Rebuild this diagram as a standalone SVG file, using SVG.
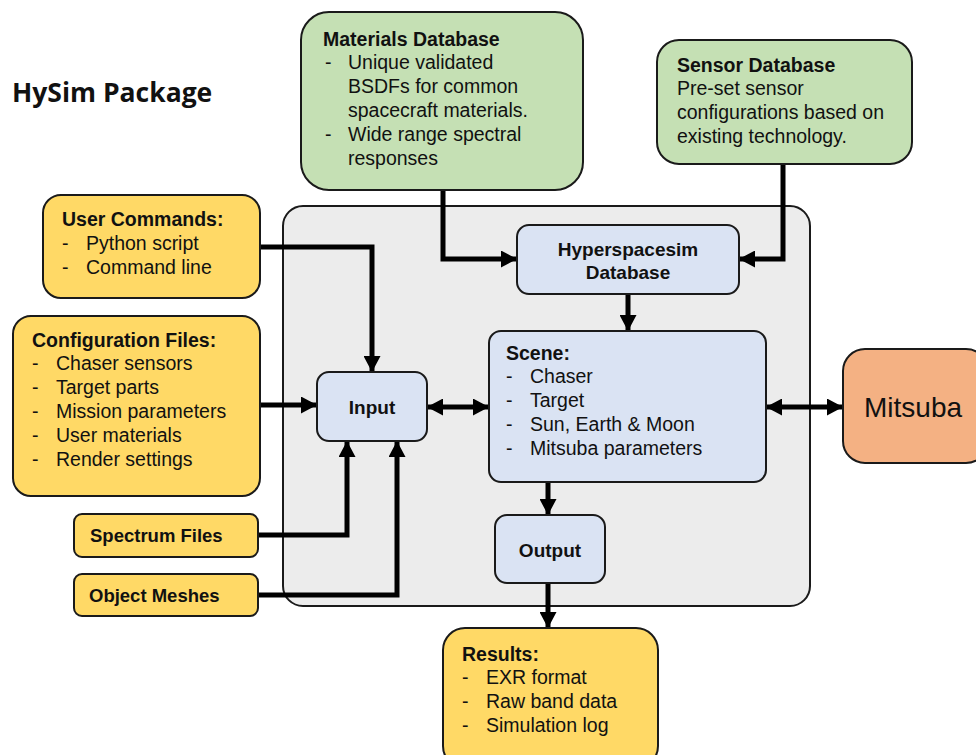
<svg xmlns="http://www.w3.org/2000/svg" width="976" height="755" viewBox="0 0 976 755">
<style>
  .t{font-family:"Liberation Sans",Arial,sans-serif;font-size:19.5px;fill:#111}
  .b{font-weight:bold}
  .box{stroke:#1a1a1a;stroke-width:2}
  .y{fill:#ffd966}.g{fill:#c5e0b4}.bl{fill:#dae3f3}.o{fill:#f4b183}
  .c{fill:none;stroke:#000;stroke-width:5}
</style>
<defs>
  <marker id="ah" viewBox="0 0 16 17" refX="15" refY="8.5" markerWidth="3.2" markerHeight="3.4" orient="auto-start-reverse" markerUnits="strokeWidth">
    <path d="M0,0 L16,8.5 L0,17 Z" fill="#000"/>
  </marker>
</defs>
<rect width="976" height="755" fill="#fff"/>
<text x="12" y="102" style="font-family:'Open Sans',sans-serif;font-size:26.5px;font-weight:bold;fill:#111">HySim Package</text>

<g id="container"><rect x="283" y="206" width="527" height="400" rx="20" fill="#ececec" class="box"/></g>

<g id="connectors">
  <path class="c" d="M443,190 V259 H516" marker-end="url(#ah)"/>
  <path class="c" d="M783,164 V259 H740" marker-end="url(#ah)"/>
  <path class="c" d="M628,294 V330" marker-end="url(#ah)"/>
  <path class="c" d="M260,247 H372 V371" marker-end="url(#ah)"/>
  <path class="c" d="M260,405 H316" marker-end="url(#ah)"/>
  <path class="c" d="M258,535 H347 V442" marker-end="url(#ah)"/>
  <path class="c" d="M258,595 H397 V442" marker-end="url(#ah)"/>
  <path class="c" d="M428,407 H488" marker-start="url(#ah)" marker-end="url(#ah)"/>
  <path class="c" d="M767,407 H842" marker-start="url(#ah)" marker-end="url(#ah)"/>
  <path class="c" d="M548,482 V514" marker-end="url(#ah)"/>
  <path class="c" d="M548,583 V627" marker-end="url(#ah)"/>
</g>

<g id="materials">
  <rect x="301" y="12" width="282" height="178" rx="28" class="box g"/>
  <text class="t b" x="323" y="46">Materials Database</text>
  <text class="t" x="325" y="69">-</text><text class="t" x="348" y="69">Unique validated</text>
  <text class="t" x="348" y="93">BSDFs for common</text>
  <text class="t" x="348" y="117">spacecraft materials.</text>
  <text class="t" x="325" y="141">-</text><text class="t" x="348" y="141">Wide range spectral</text>
  <text class="t" x="348" y="165">responses</text>
</g>

<g id="sensor">
  <rect x="657" y="40" width="255" height="124" rx="22" class="box g"/>
  <text class="t b" x="677" y="72">Sensor Database</text>
  <text class="t" x="677" y="95">Pre-set sensor</text>
  <text class="t" x="677" y="119">configurations based on</text>
  <text class="t" x="677" y="143">existing technology.</text>
</g>

<g id="user">
  <rect x="43" y="195" width="217" height="103" rx="18" class="box y"/>
  <text class="t b" x="62" y="226">User Commands:</text>
  <text class="t" x="62" y="250">-</text><text class="t" x="86" y="250">Python script</text>
  <text class="t" x="62" y="274">-</text><text class="t" x="86" y="274">Command line</text>
</g>

<g id="config">
  <rect x="13" y="316" width="247" height="180" rx="18" class="box y"/>
  <text class="t b" x="32" y="347">Configuration Files:</text>
  <text class="t" x="32" y="370">-</text><text class="t" x="56" y="370">Chaser sensors</text>
  <text class="t" x="32" y="394">-</text><text class="t" x="56" y="394">Target parts</text>
  <text class="t" x="32" y="418">-</text><text class="t" x="56" y="418">Mission parameters</text>
  <text class="t" x="32" y="442">-</text><text class="t" x="56" y="442">User materials</text>
  <text class="t" x="32" y="466">-</text><text class="t" x="56" y="466">Render settings</text>
</g>

<g id="spectrum">
  <rect x="74" y="514" width="184" height="43" rx="8" class="box y"/>
  <text class="t b" x="90" y="542" style="font-size:18.5px">Spectrum Files</text>
</g>

<g id="meshes">
  <rect x="74" y="574" width="184" height="42" rx="8" class="box y"/>
  <text class="t b" x="89" y="602" style="font-size:18.5px">Object Meshes</text>
</g>

<g id="hyperspacesim">
  <rect x="517" y="225" width="222" height="69" rx="12" class="box bl"/>
  <text class="t b" x="628" y="256" text-anchor="middle" style="font-size:19px">Hyperspacesim</text>
  <text class="t b" x="628" y="279" text-anchor="middle" style="font-size:19px">Database</text>
</g>

<g id="scene">
  <rect x="489" y="331" width="277" height="151" rx="12" class="box bl"/>
  <text class="t b" x="506" y="360">Scene:</text>
  <text class="t" x="506" y="383">-</text><text class="t" x="530" y="383">Chaser</text>
  <text class="t" x="506" y="407">-</text><text class="t" x="530" y="407">Target</text>
  <text class="t" x="506" y="431">-</text><text class="t" x="530" y="431">Sun, Earth &amp; Moon</text>
  <text class="t" x="506" y="455">-</text><text class="t" x="530" y="455">Mitsuba parameters</text>
</g>

<g id="input">
  <rect x="317" y="372" width="110" height="69" rx="12" class="box bl"/>
  <text class="t b" x="372" y="414" text-anchor="middle" style="font-size:19px">Input</text>
</g>

<g id="output">
  <rect x="495" y="515" width="110" height="68" rx="12" class="box bl"/>
  <text class="t b" x="550" y="557" text-anchor="middle" style="font-size:19px">Output</text>
</g>

<g id="mitsuba">
  <rect x="843" y="349" width="145" height="114" rx="22" class="box o"/>
  <text class="t" x="864" y="417" style="font-size:28px">Mitsuba</text>
</g>

<g id="results">
  <rect x="443" y="628" width="215" height="140" rx="22" class="box y"/>
  <text class="t b" x="462" y="661">Results:</text>
  <text class="t" x="462" y="684">-</text><text class="t" x="486" y="684">EXR format</text>
  <text class="t" x="462" y="708">-</text><text class="t" x="486" y="708">Raw band data</text>
  <text class="t" x="462" y="732">-</text><text class="t" x="486" y="732">Simulation log</text>
</g>
</svg>
